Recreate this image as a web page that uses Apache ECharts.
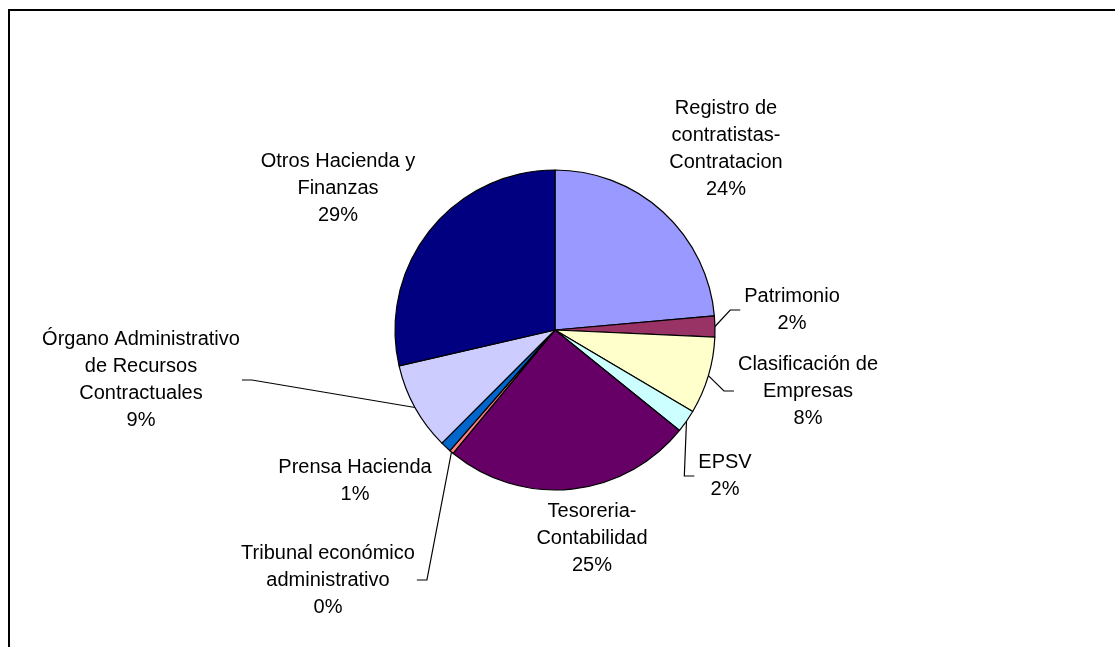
<!DOCTYPE html>
<html>
<head>
<meta charset="utf-8">
<script src="https://cdn.jsdelivr.net/npm/echarts@6/dist/echarts.min.js"></script>
<style>
  html, body { margin: 0; padding: 0; background: #fff; }
  #chart { width: 1115px; height: 647px; }
</style>
</head>
<body>
<div id="chart"></div>
<script>
// data (share of total, %)
var categories = [
    'Registro de contratistas-Contratacion', 'Patrimonio', 'Clasificación de Empresas',
    'EPSV', 'Tesoreria-Contabilidad', 'Tribunal económico administrativo',
    'Prensa Hacienda', 'Órgano Administrativo de Recursos Contractuales', 'Otros Hacienda y Finanzas'
];
var labelTexts = [
    'Registro de\ncontratistas-\nContratacion', 'Patrimonio', 'Clasificación de\nEmpresas',
    'EPSV', 'Tesoreria-\nContabilidad', 'Tribunal económico\nadministrativo',
    'Prensa Hacienda', 'Órgano Administrativo\nde Recursos\nContractuales', 'Otros Hacienda y\nFinanzas'
];
var values = [23.6, 2.1, 7.8, 2.3, 25.2, 0.4, 1.1, 8.9, 28.6];
var colors = ['#9999FF', '#993366', '#FFFFCC', '#CCFFFF', '#660066', '#FF8080', '#0066CC', '#CCCCFF', '#000080'];

// where each label sits (centre of the text block) and whether it gets a leader line
var labelPos = [[726, 149], [792, 310], [808, 391], [725, 476], [592, 538], [328, 580], [355, 481], [141, 380], [338, 188]];
var lineSide = [null, 'left', 'left', 'left', null, 'right', null, 'right', null];

var pieData = categories.map(function (name, i) {
    return {
        name: name,
        value: values[i],
        itemStyle: { color: colors[i] },
        labelLine: { show: lineSide[i] !== null }
    };
});

var chart = echarts.init(document.getElementById('chart'));

chart.setOption({
    animation: false,
    graphic: [{
        type: 'rect',
        shape: { x: 9, y: 10, width: 1200, height: 700 },
        style: { fill: 'none', stroke: '#000', lineWidth: 2 },
        silent: true
    }],
    series: [{
        type: 'pie',
        center: [555, 330],
        radius: 160,
        startAngle: 90,
        clockwise: true,
        avoidLabelOverlap: false,
        data: pieData,
        itemStyle: { borderColor: '#000', borderWidth: 1.2 },
        label: {
            position: 'outside',
            color: '#000',
            fontFamily: 'Liberation Sans, Arial, sans-serif',
            fontSize: 20,
            lineHeight: 27,
            align: 'center',
            formatter: function (p) {
                return labelTexts[p.dataIndex] + '\n' + Math.round(p.percent) + '%';
            }
        },
        labelLine: {
            show: true,
            lineStyle: { color: '#000', width: 1.2 }
        },
        labelLayout: function (p) {
            var i = p.dataIndex;
            var pos = labelPos[i];
            var out = { x: pos[0], y: pos[1], align: 'center', verticalAlign: 'middle' };
            var pts = p.labelLinePoints;
            if (lineSide[i] && pts) {
                var w = p.labelRect.width;
                var end, elbow;
                if (lineSide[i] === 'left') {
                    end = [pos[0] - w / 2 - 4, pos[1]];
                    elbow = [end[0] - 10, pos[1]];
                } else {
                    end = [pos[0] + w / 2 + 2, pos[1]];
                    elbow = [end[0] + 10, pos[1]];
                }
                out.labelLinePoints = [pts[0], elbow, end];
            }
            return out;
        }
    }]
});
</script>
</body>
</html>
